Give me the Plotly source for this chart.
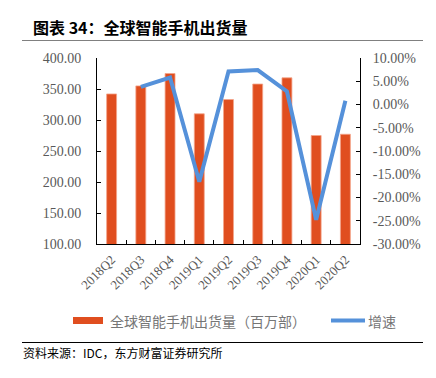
import plotly.graph_objects as go

categories = ["2018Q2", "2018Q3", "2018Q4", "2019Q1", "2019Q2", "2019Q3", "2019Q4", "2020Q1", "2020Q2"]
shipments = [342, 355, 375, 310, 333, 358, 368, 275, 277]
growth_pct = [None, 3.8, 5.8, -16.6, 7.1, 7.4, 2.8, -24.8, 0.8]
left_ticks = [100, 150, 200, 250, 300, 350, 400]
right_ticks = [-30, -25, -20, -15, -10, -5, 0, 5, 10]

bar_name = "全球智能手机出货量（百万部）"
line_name = "增速"

serif = "Liberation Serif, Times New Roman, serif"
cjk = "Noto Sans CJK SC, sans-serif"
gray = "#595959"
legend_gray = "#767676"
bar_color = "#E04E1F"
line_color = "#5591DA"

OFF = 8  # default page body margin
W, H = 436 - OFF, 378 - OFF
L, R, T, B = 97 - OFF, 360 - OFF, 58 - OFF, 244 - OFF


def px(x):
    return (x - OFF - L) / (R - L)


def py(y):
    return (B - (y - OFF)) / (B - T)


fig = go.Figure()
fig.add_trace(go.Bar(
    x=categories, y=shipments, name=bar_name,
    marker=dict(color=bar_color, line=dict(color="#F4A58A", width=0.8)),
    yaxis="y", showlegend=False,
))
fig.add_trace(go.Scatter(
    x=categories, y=[None if v is None else v / 100 for v in growth_pct],
    name=line_name, mode="lines",
    line=dict(color=line_color, width=4),
    yaxis="y2", showlegend=False,
))

fig.update_layout(
    width=W, height=H,
    margin=dict(l=L, r=W - R, t=T, b=H - B, autoexpand=False),
    paper_bgcolor="white", plot_bgcolor="white",
    bargap=0.66,
    showlegend=False,
    xaxis=dict(
        type="category", tickangle=-45,
        tickfont=dict(family=serif, size=13, color=gray),
        showline=True, linecolor="black", linewidth=1,
        ticks="inside", ticklen=4, tickcolor="black", tickson="boundaries",
        showgrid=False, mirror=False, ticklabelstandoff=2,
    ),
    yaxis=dict(
        range=[100, 400], tickvals=left_ticks,
        ticktext=[f"{v:.2f}" for v in left_ticks],
        tickfont=dict(family=serif, size=14, color=gray),
        showline=True, linecolor="black", linewidth=1,
        ticks="inside", ticklen=4, tickcolor="black",
        showgrid=False, zeroline=False, ticklabelstandoff=12,
    ),
    yaxis2=dict(
        overlaying="y", side="right",
        range=[-0.30, 0.10], tickvals=[v / 100 for v in right_ticks],
        ticktext=[f"{v:.2f}%" for v in right_ticks],
        tickfont=dict(family=serif, size=14, color=gray),
        showline=True, linecolor="black", linewidth=1,
        ticks="inside", ticklen=4, tickcolor="black",
        showgrid=False, zeroline=False, ticklabelstandoff=9,
    ),
    shapes=[
        dict(type="line", xref="paper", yref="paper", x0=px(22), x1=px(423), y0=py(40.5), y1=py(40.5),
             line=dict(color="#808080", width=1)),
        dict(type="line", xref="paper", yref="paper", x0=px(22), x1=px(423), y0=py(342.5), y1=py(342.5),
             line=dict(color="black", width=1)),
        dict(type="rect", xref="paper", yref="paper", x0=px(73), x1=px(103), y0=py(324), y1=py(317),
             fillcolor=bar_color, line=dict(width=0)),
        dict(type="line", xref="paper", yref="paper", x0=px(331), x1=px(365), y0=py(320.5), y1=py(320.5),
             line=dict(color=line_color, width=4)),
    ],
    annotations=[
        dict(text="<b>图表 34：全球智能手机出货量</b>", xref="paper", yref="paper",
             x=px(31), y=py(27), xanchor="left", yanchor="middle", showarrow=False,
             font=dict(family=cjk, size=16, color="black")),
        dict(text=bar_name, xref="paper", yref="paper",
             x=px(108), y=py(321), xanchor="left", yanchor="middle", showarrow=False,
             font=dict(family=cjk, size=14, color=legend_gray)),
        dict(text=line_name, xref="paper", yref="paper",
             x=px(366), y=py(321), xanchor="left", yanchor="middle", showarrow=False,
             font=dict(family=cjk, size=14, color=legend_gray)),
        dict(text="资料来源：IDC，东方财富证券研究所", xref="paper", yref="paper",
             x=px(21), y=py(352), xanchor="left", yanchor="middle", showarrow=False,
             font=dict(family=cjk, size=12, color="black")),
    ],
)

fig.write_html("out.html")
